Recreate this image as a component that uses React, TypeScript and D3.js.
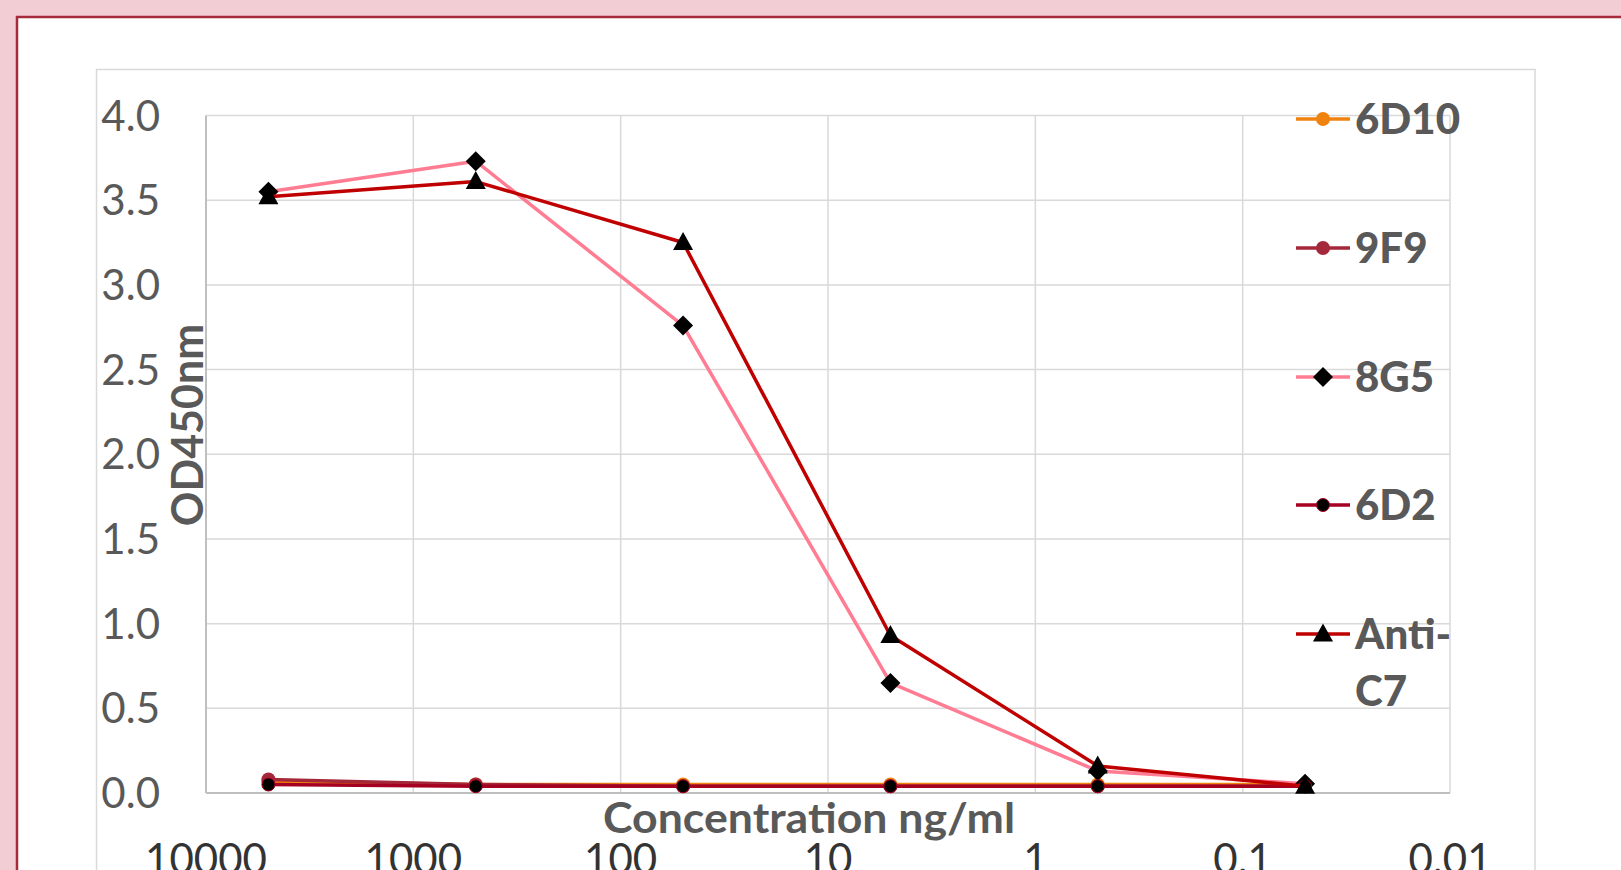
import React, { useRef, useEffect } from 'react';
import * as d3 from 'd3';

// concentrations (ng/ml), axis runs high -> low
const concentrations = [5000, 500, 50, 5, 0.5, 0.05];
const xTickValues = [10000, 1000, 100, 10, 1, 0.1, 0.01];
const xTickLabels = ['10000', '1000', '100', '10', '1', '0.1', '0.01'];
const yTickValues = [0, 0.5, 1, 1.5, 2, 2.5, 3, 3.5, 4];

const seriesNames = ['6D10', '9F9', '8G5', '6D2', 'Anti-C7'];
const values6D10 = [0.07, 0.05, 0.05, 0.05, 0.05, 0.05];
const values9F9 = [0.08, 0.05, 0.04, 0.04, 0.04, 0.04];
const values8G5 = [3.55, 3.73, 2.76, 0.65, 0.13, 0.055];
const values6D2 = [0.05, 0.04, 0.04, 0.04, 0.04, 0.04];
const valuesAntiC7 = [3.52, 3.61, 3.25, 0.93, 0.16, 0.04];

const lineColors = ['#F0820F', '#A5283A', '#FF7C93', '#A50021', '#C00000'];
const markerFills = ['#F0820F', '#A5283A', '#000000', '#000000', '#000000'];
const markerTypes = ['circle', 'circle', 'diamond', 'dot', 'triangle'];

export default function App() {
  const d3Container = useRef(null);
  const width = 1621;
  const height = 870;

  useEffect(() => {
    document.body.style.margin = '0';
    if (!d3Container.current) return;

    const svg = d3.select(d3Container.current);
    svg.selectAll('*').remove();

    const plot = { left: 206, right: 1450, top: 115.5, bottom: 793 };

    const x = d3.scaleLog().domain([10000, 0.01]).range([plot.left, plot.right]);
    const y = d3.scaleLinear().domain([0, 4]).range([plot.bottom, plot.top]);

    // pink page + framed card
    svg.append('rect').attr('width', width).attr('height', height).attr('fill', '#F2CDD3');
    svg
      .append('rect')
      .attr('x', 17)
      .attr('y', 17)
      .attr('width', width)
      .attr('height', height)
      .attr('fill', '#fff')
      .attr('stroke', '#A52A3A')
      .attr('stroke-width', 2.5);

    // chart area border
    svg
      .append('rect')
      .attr('x', 96.5)
      .attr('y', 69.5)
      .attr('width', 1535 - 96.5)
      .attr('height', height)
      .attr('fill', 'none')
      .attr('stroke', '#D9D9D9')
      .attr('stroke-width', 1.5);

    const font = 'Lato, "Open Sans", sans-serif';

    // gridlines
    const grid = svg.append('g').attr('stroke', '#D9D9D9').attr('stroke-width', 1.5);
    grid
      .selectAll('line.h')
      .data(yTickValues.slice(1))
      .join('line')
      .attr('x1', plot.left)
      .attr('x2', plot.right)
      .attr('y1', (d) => y(d))
      .attr('y2', (d) => y(d));
    grid
      .selectAll('line.v')
      .data(xTickValues.slice(1))
      .join('line')
      .attr('x1', (d) => x(d))
      .attr('x2', (d) => x(d))
      .attr('y1', plot.top)
      .attr('y2', plot.bottom);

    // axis lines
    svg
      .append('line')
      .attr('x1', plot.left)
      .attr('x2', plot.right)
      .attr('y1', plot.bottom)
      .attr('y2', plot.bottom)
      .attr('stroke', '#BFBFBF')
      .attr('stroke-width', 2);
    svg
      .append('line')
      .attr('x1', plot.left)
      .attr('x2', plot.left)
      .attr('y1', plot.top)
      .attr('y2', plot.bottom)
      .attr('stroke', '#BFBFBF')
      .attr('stroke-width', 2);

    // y tick labels
    svg
      .append('g')
      .selectAll('text')
      .data(yTickValues)
      .join('text')
      .attr('x', 160)
      .attr('y', (d) => y(d))
      .attr('dy', '0.36em')
      .attr('text-anchor', 'end')
      .attr('font-family', font)
      .attr('font-size', 42)
      .attr('fill', '#595959')
      .text((d) => d3.format('.1f')(d));

    // x tick labels (cut by the bottom edge, as in the source)
    svg
      .append('g')
      .selectAll('text')
      .data(xTickValues)
      .join('text')
      .attr('x', (d) => x(d))
      .attr('y', 874)
      .attr('text-anchor', 'middle')
      .attr('font-family', font)
      .attr('font-size', 42)
      .attr('fill', '#333333')
      .text((d, i) => xTickLabels[i]);

    // axis titles
    svg
      .append('text')
      .attr('x', 809)
      .attr('y', 833)
      .attr('text-anchor', 'middle')
      .attr('font-family', font)
      .attr('font-weight', 'bold')
      .attr('font-size', 42)
      .attr('textLength', 412)
      .attr('lengthAdjust', 'spacingAndGlyphs')
      .attr('fill', '#595959')
      .text('Concentration ng/ml');

    svg
      .append('text')
      .attr('transform', 'translate(203,425) rotate(-90)')
      .attr('text-anchor', 'middle')
      .attr('font-family', font)
      .attr('font-weight', 'bold')
      .attr('font-size', 43)
      .attr('fill', '#595959')
      .text('OD450nm');

    const allValues = [values6D10, values9F9, values8G5, values6D2, valuesAntiC7];
    const line = d3
      .line()
      .x((d) => x(d[0]))
      .y((d) => y(d[1]));

    const drawMarker = (g, type, cx, cy, fill, stroke) => {
      if (type === 'diamond') {
        g.append('path')
          .attr('d', `M${cx},${cy - 10}L${cx + 10},${cy}L${cx},${cy + 10}L${cx - 10},${cy}Z`)
          .attr('fill', fill);
      } else if (type === 'triangle') {
        g.append('path')
          .attr('d', `M${cx},${cy - 10.5}L${cx + 10},${cy + 7.5}L${cx - 10},${cy + 7.5}Z`)
          .attr('fill', fill);
      } else if (type === 'dot') {
        g.append('circle')
          .attr('cx', cx)
          .attr('cy', cy)
          .attr('r', 6.5)
          .attr('fill', fill)
          .attr('stroke', stroke)
          .attr('stroke-width', 1);
      } else {
        g.append('circle').attr('cx', cx).attr('cy', cy).attr('r', 7).attr('fill', fill);
      }
    };

    allValues.forEach((vals, i) => {
      const pts = concentrations.map((c, j) => [c, vals[j]]);
      const g = svg.append('g');
      g.append('path')
        .attr('d', line(pts))
        .attr('fill', 'none')
        .attr('stroke', lineColors[i])
        .attr('stroke-width', 3.5)
        .attr('stroke-linejoin', 'round');
      pts.forEach((p) => drawMarker(g, markerTypes[i], x(p[0]), y(p[1]), markerFills[i], lineColors[i]));
    });

    // legend
    const legendY = [119, 248, 377, 505, 634];
    seriesNames.forEach((name, i) => {
      const g = svg.append('g');
      g.append('line')
        .attr('x1', 1296)
        .attr('x2', 1350)
        .attr('y1', legendY[i])
        .attr('y2', legendY[i])
        .attr('stroke', lineColors[i])
        .attr('stroke-width', 3.5);
      drawMarker(g, markerTypes[i], 1323, legendY[i], markerFills[i], lineColors[i]);
      const lines = name === 'Anti-C7' ? ['Anti-', 'C7'] : [name];
      lines.forEach((t, k) => {
        g.append('text')
          .attr('x', 1355)
          .attr('y', legendY[i] + k * 57)
          .attr('dy', '0.36em')
          .attr('font-family', font)
          .attr('font-weight', 900)
          .attr('font-size', 42)
          .attr('fill', '#595959')
          .text(t);
      });
    });
  }, []);

  return <svg ref={d3Container} width={width} height={height} style={{ display: 'block' }} />;
}
